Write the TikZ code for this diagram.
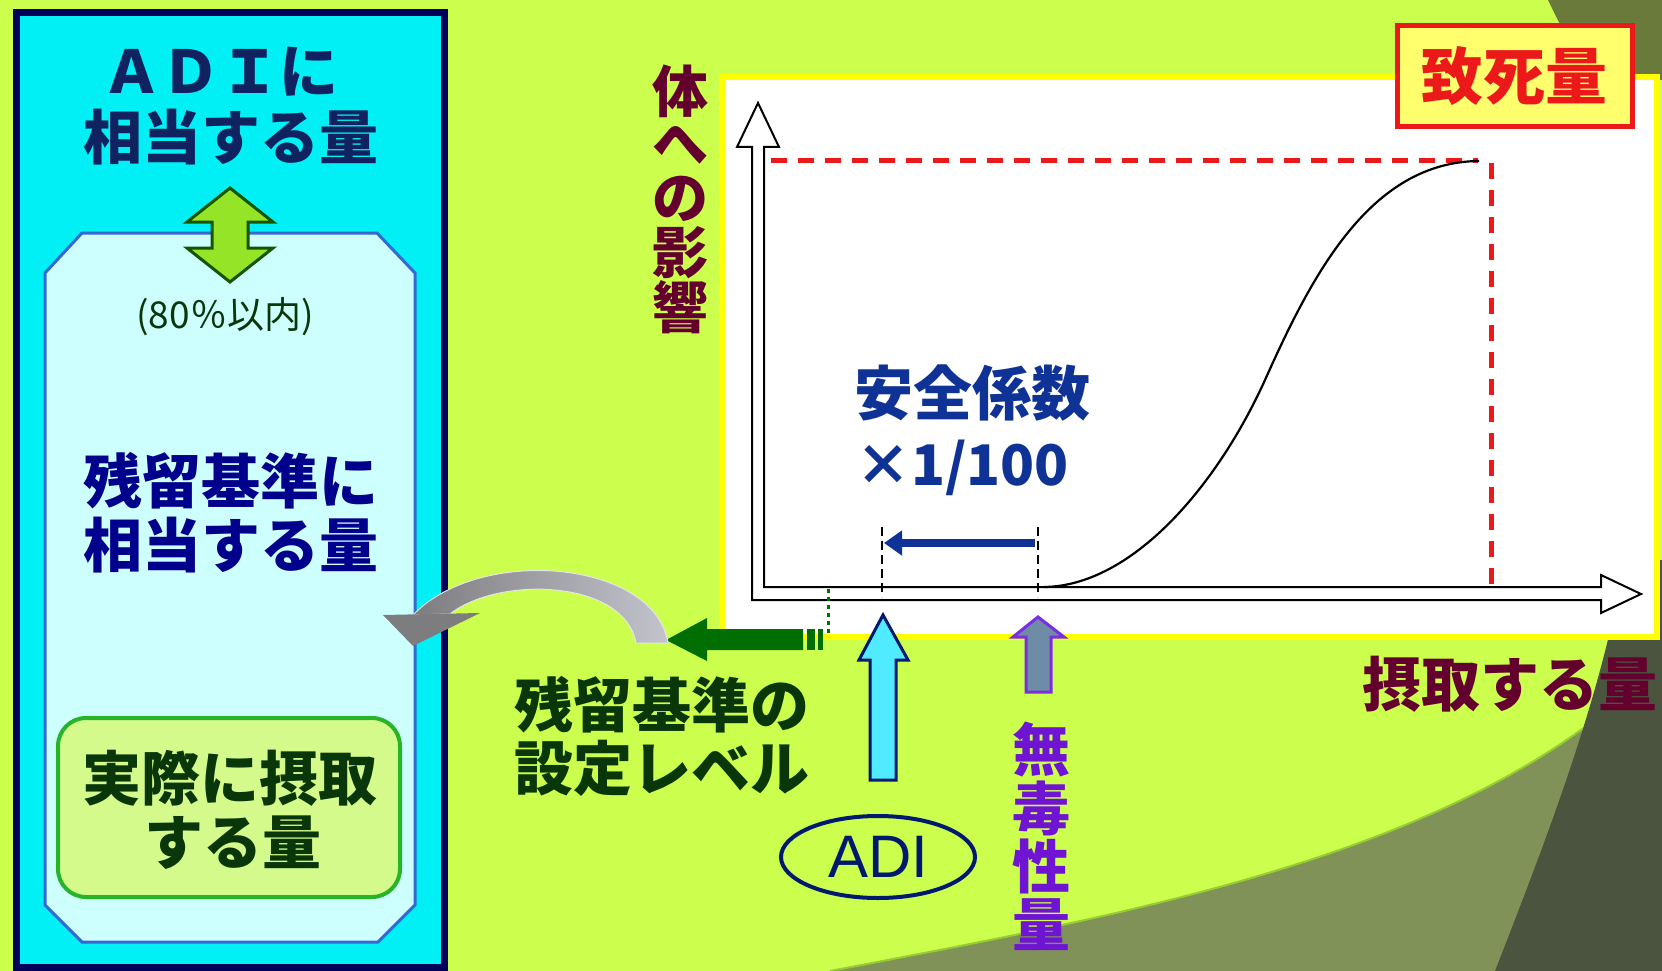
\documentclass[tikz,border=0pt]{standalone}
\usepackage{fontspec}
\newfontfamily\jp{Noto Sans CJK JP}
\newfontfamily\arialf{Liberation Sans}
\usetikzlibrary{shapes.geometric,arrows.meta}
\definecolor{bg}{RGB}{204,255,77}
\definecolor{olivetop}{RGB}{105,122,58}
\definecolor{olivemid}{RGB}{128,146,88}
\definecolor{olivedark}{RGB}{74,84,62}
\definecolor{bgline}{RGB}{150,205,50}
\definecolor{navybox}{RGB}{0,0,90}
\definecolor{cyanbox}{RGB}{0,240,245}
\definecolor{innerfill}{RGB}{205,255,255}
\definecolor{innerdraw}{RGB}{50,105,210}
\definecolor{titlenavy}{RGB}{16,34,96}
\definecolor{navytext}{RGB}{0,0,140}
\definecolor{arrowgreen}{RGB}{150,228,40}
\definecolor{arrowgreendraw}{RGB}{20,85,0}
\definecolor{gboxfill}{RGB}{212,250,140}
\definecolor{gboxdraw}{RGB}{40,180,40}
\definecolor{dkgreentext}{RGB}{10,55,10}
\definecolor{maroontext}{RGB}{100,0,45}
\definecolor{purpletext}{RGB}{110,20,210}
\definecolor{bluetext}{RGB}{15,50,150}
\definecolor{redline}{RGB}{235,25,25}
\definecolor{lethalfill}{RGB}{255,255,110}
\definecolor{chartyellow}{RGB}{255,255,0}
\definecolor{levelgreen}{RGB}{0,110,0}
\definecolor{adicyan}{RGB}{80,235,255}
\definecolor{adinavy}{RGB}{0,25,110}
\definecolor{noaelfill}{RGB}{110,140,165}
\definecolor{noaeldraw}{RGB}{125,45,225}
\definecolor{curvedark}{RGB}{125,125,128}
\definecolor{curvelight}{RGB}{195,195,205}
\begin{document}
\begin{tikzpicture}[x=1pt,y=-1pt,
  big/.style={inner sep=0pt, font=\jp\bfseries\fontsize{59}{64}\selectfont},
  vbig/.style={inner sep=0pt, font=\jp\bfseries\fontsize{56}{60}\selectfont},
  blockarrow/.style={line width=3pt, line join=miter},
  reddash/.style={draw=redline, line width=5pt, dash pattern=on 16pt off 11pt},
  blackdash/.style={draw=black, line width=2pt, dash pattern=on 9pt off 5pt}]
\useasboundingbox (0,0) rectangle (1662,971);
% background
\fill[bg] (0,0) rectangle (1662,971);
\fill[olivetop] (1548,0) .. controls (1560,25) and (1575,55) .. (1595,80) -- (1662,80) -- (1662,0) -- cycle;
\fill[olivemid] (830,971) .. controls (1150,910) and (1480,850) .. (1662,660) -- (1662,971) -- cycle;
\draw[line width=2pt, bgline] (830,971) .. controls (1150,910) and (1480,850) .. (1662,660);
\fill[olivedark] (1495,971) .. controls (1550,830) and (1600,700) .. (1625,560) -- (1662,560) -- (1662,971) -- cycle;
% left panel
\draw[line width=7pt, navybox, fill=cyanbox] (16,13) rectangle (444,967);
\draw[line width=3pt, innerdraw, fill=innerfill] (82,233) -- (377,233) -- (415,273) -- (415,905) -- (378,942) -- (82,942) -- (45,905) -- (45,273) -- cycle;
\node[big, text=titlenavy] (adiL1) at (220,72) {ＡＤＩに};
\node[big, text=titlenavy] (adiL2) at (231,137) {相当する量};
\draw[blockarrow, draw=arrowgreendraw, fill=arrowgreen] (230,188) -- (273,222) -- (248,222) -- (248,248) -- (273,248) -- (230,282) -- (187,248) -- (212,248) -- (212,222) -- (187,222) -- cycle;
\node[inner sep=0pt, font=\jp\fontsize{37}{40}\selectfont, text=dkgreentext] (pct) at (225,317) {(80％以内)};
\node[big, text=navytext] (resL1) at (231,481) {残留基準に};
\node[big, text=navytext] (resL2) at (231,545) {相当する量};
\node[draw=gboxdraw, fill=gboxfill, line width=4pt, rounded corners=28pt, minimum width=342pt, minimum height=179pt] (gbox) at (229,807.5) {};
\node[big, text=dkgreentext] (actL1) at (230,778) {実際に摂取};
\node[big, text=dkgreentext] (actL2) at (233,843) {する量};
% chart
\draw[line width=6pt, chartyellow, fill=white] (722,77) rectangle (1657,637);
\draw[line width=2pt, fill=white, line join=miter] (758,103) -- (779,147) -- (764,147) -- (764,587) -- (1601,587) -- (1601,575) -- (1641,594) -- (1601,613) -- (1601,600) -- (752,600) -- (752,147) -- (737,147) -- cycle;
\draw[reddash] (771,160) -- (1478,160);
\draw[reddash] (1491,163) -- (1491,587);
\draw[line width=2.2pt] (1044,587) .. controls (1130,586) and (1215,490) .. (1265,380) .. controls (1312,275) and (1370,162) .. (1479,161);
\coordinate (adiTop) at (882,527);
\coordinate (adiBot) at (882,597);
\coordinate (noaelTop) at (1038,527);
\coordinate (noaelBot) at (1038,597);
\draw[blackdash] (adiTop) -- (adiBot);
\draw[blackdash] (noaelTop) -- (noaelBot);
\coordinate (sfFrom) at (1035,543);
\coordinate (sfTo) at (884,543);
\draw[line width=7.5pt, bluetext, -{Triangle[length=18pt,width=24pt]}] (sfFrom) -- (sfTo);
\node[big, text=bluetext] (sf1) at (972,393) {安全係数};
\node[inner sep=0pt, font=\jp\bfseries\fontsize{56}{60}\selectfont, text=bluetext] (sf2) at (962,468) {×1/100};
\node[draw=redline, fill=lethalfill, line width=5pt, minimum width=235pt, minimum height=101pt, inner sep=0pt, font=\jp\bfseries\fontsize{62}{66}\selectfont, text=redline] (lethal) at (1514.5,76.5) {致死量};
\foreach \ch/\yy [count=\i] in {体/91,へ/145,の/199,影/253,響/307}
  \node[vbig, text=maroontext] (yl\i) at (680,\yy) {\ch};
\node[big, text=maroontext] (xl) at (1510,684) {摂取する量};
% residue level arrow
\coordinate (lvTop) at (828,589);
\coordinate (lvBot) at (828,637);
\draw[line width=3pt, levelgreen, dash pattern=on 4pt off 4pt] (lvTop) -- (lvBot);
\fill[levelgreen] (666,640) -- (707,618) -- (707,629) -- (803,629) -- (803,650) -- (707,650) -- (707,661) -- cycle;
\fill[levelgreen] (807,629) rectangle (815,650);
\fill[levelgreen] (818,629) rectangle (823,650);
\node[big, text=dkgreentext, anchor=west] (lvL1) at (514,705) {残留基準の};
\node[big, text=dkgreentext, anchor=west] (lvL2) at (514,768) {設定レベル};
% gray curved arrow
\shadedraw[left color=curvedark, right color=curvelight, draw=white!80!gray, line width=1pt] (668,643) .. controls (655,560) and (480,545) .. (413,615) -- (450,614) .. controls (500,575) and (625,580) .. (636,643) -- cycle;
\fill[curvedark] (383,615) -- (480,613) -- (413,646) -- cycle;
% ADI arrow and label
\draw[blockarrow, draw=adinavy, fill=adicyan] (883,615) -- (908,660) -- (896,660) -- (896,780) -- (870,780) -- (870,660) -- (859,660) -- cycle;
\node[ellipse, draw=adinavy, line width=4pt, minimum width=194pt, minimum height=82pt, inner sep=0pt, font=\arialf\fontsize{60}{64}\selectfont, text=adinavy] (adi) at (878,857) {ADI};
% NOAEL arrow and label
\draw[blockarrow, draw=noaeldraw, fill=noaelfill] (1038,617) -- (1064,637) -- (1051,637) -- (1051,692) -- (1026,692) -- (1026,637) -- (1013,637) -- cycle;
\foreach \ch/\yy [count=\i] in {無/749,毒/808,性/866,量/925}
  \node[inner sep=0pt, font=\jp\bfseries\fontsize{58}{60}\selectfont, text=purpletext] (nl\i) at (1041,\yy) {\ch};
\end{tikzpicture}
\end{document}
